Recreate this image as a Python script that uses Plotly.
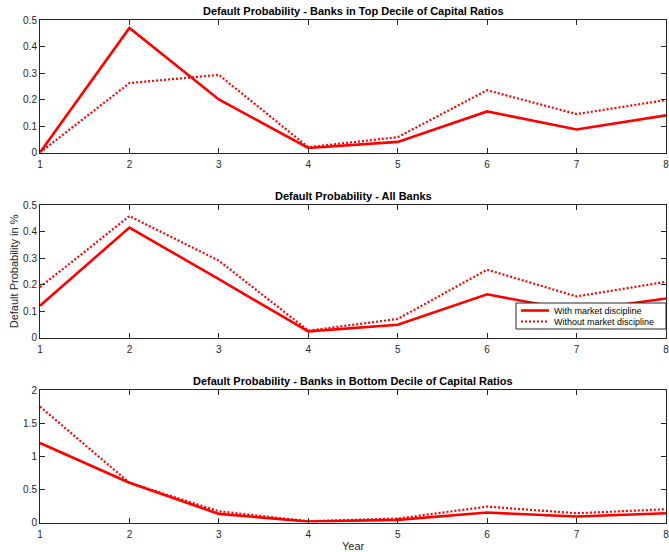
import plotly.graph_objects as go

years = [1, 2, 3, 4, 5, 6, 7, 8]

top_with = [0.0, 0.47, 0.20, 0.017, 0.04, 0.155, 0.087, 0.14]
top_without = [0.0, 0.262, 0.293, 0.02, 0.058, 0.235, 0.145, 0.198]

all_with = [0.12, 0.415, 0.22, 0.023, 0.048, 0.163, 0.10, 0.147]
all_without = [0.19, 0.458, 0.29, 0.026, 0.07, 0.256, 0.155, 0.21]

bottom_with = [1.2, 0.6, 0.13, 0.015, 0.04, 0.15, 0.09, 0.14]
bottom_without = [1.75, 0.6, 0.17, 0.02, 0.06, 0.24, 0.14, 0.2]

titles = [
    "Default Probability - Banks in Top Decile of Capital Ratios",
    "Default Probability - All Banks",
    "Default Probability - Banks in Bottom Decile of Capital Ratios",
]
legend_labels = ["With market discipline", "Without market discipline"]
x_title = "Year"
y_title = "Default Probability in %"

W, H = 669, 552
x0, x1 = 40 / W, 666 / W
# (top, bottom) pixel rows of each panel
panels = [(20, 152.5), (205, 337.5), (390, 522.5)]
yranges = [[0, 0.5], [0, 0.5], [0, 2]]
yticks = [
    [0, 0.1, 0.2, 0.3, 0.4, 0.5],
    [0, 0.1, 0.2, 0.3, 0.4, 0.5],
    [0, 0.5, 1, 1.5, 2],
]
ytext = [
    ["0", "0.1", "0.2", "0.3", "0.4", "0.5"],
    ["0", "0.1", "0.2", "0.3", "0.4", "0.5"],
    ["0", "0.5", "1", "1.5", "2"],
]

red = "#ff0000"
axcol = "#262626"
font = "Liberation Sans, Arial, sans-serif"
lw_solid = 2.6
lw_dot = 2.2
dot_pattern = "2px,2px"

fig = go.Figure()
series = [(top_with, top_without), (all_with, all_without), (bottom_with, bottom_without)]

for i, (w, wo) in enumerate(series):
    xa = "x" if i == 0 else f"x{i + 1}"
    ya = "y" if i == 0 else f"y{i + 1}"
    fig.add_trace(go.Scatter(
        x=years, y=w, mode="lines", xaxis=xa, yaxis=ya,
        line=dict(color=red, width=lw_solid), name=legend_labels[0], showlegend=False,
    ))
    fig.add_trace(go.Scatter(
        x=years, y=wo, mode="lines", xaxis=xa, yaxis=ya,
        line=dict(color=red, width=lw_dot, dash=dot_pattern), name=legend_labels[1], showlegend=False,
    ))

axis_common = dict(
    showline=True, linecolor=axcol, linewidth=1, mirror="ticks",
    ticks="inside", ticklen=5, tickcolor=axcol, tickwidth=1,
    showgrid=False, zeroline=False, automargin=False,
    tickfont=dict(family=font, size=10, color=axcol),
)

layout = dict(
    width=W, height=H,
    margin=dict(l=0, r=0, t=0, b=0, pad=0, autoexpand=False),
    paper_bgcolor="white", plot_bgcolor="white",
    font=dict(family=font, color=axcol),
    showlegend=False,
)

annotations = []
shapes = []
for i, (ptop, pbot) in enumerate(panels):
    sfx = "" if i == 0 else str(i + 1)
    layout["xaxis" + sfx] = dict(
        axis_common, domain=[x0, x1], range=[1, 8],
        tickvals=years, ticktext=[str(v) for v in years],
        anchor="y" + sfx, ticklabeloverflow="allow", ticklabelstandoff=2,
    )
    layout["yaxis" + sfx] = dict(
        axis_common, domain=[1 - pbot / H, 1 - ptop / H], range=yranges[i],
        tickvals=yticks[i], ticktext=ytext[i],
        anchor="x" + sfx,
    )
    annotations.append(dict(
        text="<b>" + titles[i] + "</b>", xref="paper", yref="paper",
        x=(x0 + x1) / 2, y=1 - (ptop - 9) / H, xanchor="center", yanchor="middle",
        showarrow=False, font=dict(family=font, size=11, color="#000000"),
    ))

# Axis titles
annotations.append(dict(
    text=x_title, xref="paper", yref="paper",
    x=(x0 + x1) / 2, y=1 - 546 / H, xanchor="center", yanchor="middle",
    showarrow=False, font=dict(family=font, size=11, color=axcol),
))
annotations.append(dict(
    text=y_title, xref="paper", yref="paper", textangle=-90,
    x=14 / W, y=1 - ((panels[1][0] + panels[1][1]) / 2) / H,
    xanchor="center", yanchor="middle",
    showarrow=False, font=dict(family=font, size=11, color=axcol),
))

# Legend box for the middle panel
lx0, lx1, ly0, ly1 = 516, 666, 303, 329
shapes.append(dict(
    type="rect", xref="paper", yref="paper",
    x0=lx0 / W, x1=lx1 / W, y0=1 - ly1 / H, y1=1 - ly0 / H,
    line=dict(color=axcol, width=1), fillcolor="white", layer="above",
))
for k, (dash, lw) in enumerate([("solid", lw_solid), (dot_pattern, lw_dot)]):
    yy = 1 - (ly0 + 7.5 + 11 * k) / H
    shapes.append(dict(
        type="line", xref="paper", yref="paper",
        x0=(lx0 + 5) / W, x1=(lx0 + 33) / W, y0=yy, y1=yy,
        line=dict(color=red, width=lw, dash=dash), layer="above",
    ))
    annotations.append(dict(
        text=legend_labels[k], xref="paper", yref="paper",
        x=(lx0 + 36) / W, y=yy, xanchor="left", yanchor="middle",
        showarrow=False, font=dict(family=font, size=9, color="#000000"),
    ))

layout["annotations"] = annotations
layout["shapes"] = shapes

fig.update_layout(**layout)
fig.write_html("out.html")
